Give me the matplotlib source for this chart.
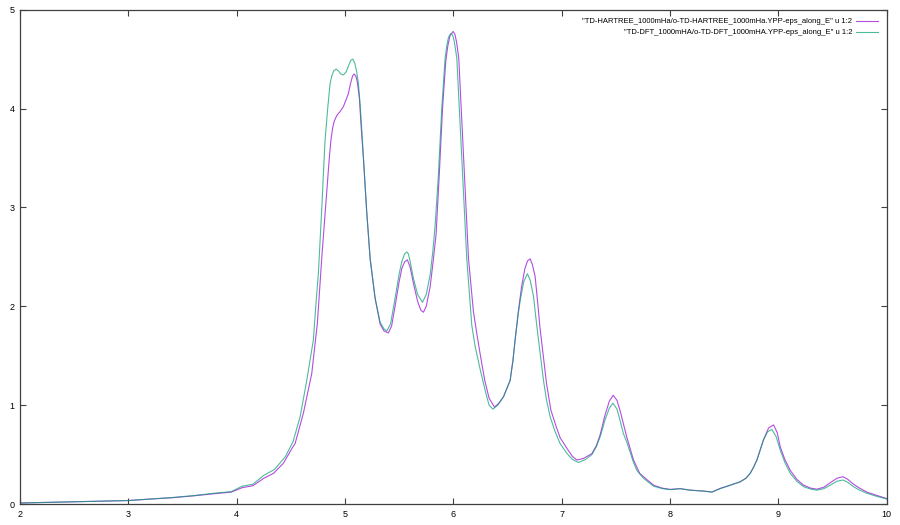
import matplotlib
matplotlib.use("Agg")
import matplotlib.pyplot as plt

# TD-HARTREE series (purple)
hx = [2.0, 2.2, 2.4, 2.6, 2.8, 3.0, 3.2, 3.4, 3.6, 3.8, 3.95, 4.05, 4.15, 4.25, 4.34, 4.43,
      4.52, 4.539, 4.616, 4.693, 4.745, 4.786, 4.832, 4.855, 4.87, 4.885, 4.90, 4.924, 4.955,
      4.985, 5.031, 5.05, 5.07, 5.084, 5.10, 5.115, 5.133, 5.15, 5.17, 5.20, 5.232, 5.278,
      5.324, 5.36, 5.40, 5.43, 5.462, 5.50, 5.524, 5.55, 5.575, 5.60, 5.632, 5.67, 5.70, 5.724,
      5.75, 5.786, 5.81, 5.84, 5.87, 5.90, 5.93, 5.95, 5.97, 5.998, 6.015, 6.03, 6.05, 6.08,
      6.11, 6.14, 6.155, 6.185, 6.217, 6.25, 6.29, 6.33, 6.38, 6.42, 6.463, 6.524, 6.55, 6.57,
      6.60, 6.63, 6.66, 6.685, 6.709, 6.73, 6.755, 6.78, 6.80, 6.83, 6.86, 6.90, 6.95, 6.986,
      7.05, 7.10, 7.14, 7.20, 7.279, 7.32, 7.355, 7.40, 7.44, 7.475, 7.51, 7.54, 7.57, 7.60,
      7.663, 7.72, 7.755, 7.848, 7.93, 8.002, 8.094, 8.186, 8.31, 8.387, 8.463, 8.556, 8.648,
      8.70, 8.74, 8.77, 8.802, 8.863, 8.91, 8.956, 8.99, 9.017, 9.06, 9.11, 9.17, 9.233, 9.30,
      9.356, 9.42, 9.479, 9.54, 9.596, 9.64, 9.694, 9.75, 9.818, 9.90, 10.0]
hy = [0.01, 0.015, 0.02, 0.025, 0.03, 0.035, 0.05, 0.063, 0.082, 0.105, 0.12, 0.165, 0.185,
      0.26, 0.31, 0.41, 0.58, 0.61, 0.92, 1.32, 1.83, 2.50, 3.17, 3.5, 3.68, 3.80, 3.87, 3.93,
      3.97, 4.02, 4.15, 4.25, 4.33, 4.35, 4.33, 4.26, 4.10, 3.80, 3.50, 2.96, 2.48, 2.08, 1.82,
      1.75, 1.73, 1.80, 2.0, 2.25, 2.38, 2.45, 2.47, 2.40, 2.23, 2.05, 1.96, 1.94, 2.0, 2.20,
      2.42, 2.72, 3.33, 4.0, 4.48, 4.64, 4.74, 4.78, 4.75, 4.67, 4.51, 3.83, 3.16, 2.48, 2.30,
      1.95, 1.72, 1.50, 1.25, 1.07, 0.98, 1.02, 1.085, 1.25, 1.45, 1.66, 1.95, 2.2, 2.38, 2.46,
      2.48, 2.42, 2.30, 2.02, 1.78, 1.50, 1.22, 0.95, 0.78, 0.67, 0.56, 0.48, 0.445, 0.46, 0.51,
      0.59, 0.70, 0.90, 1.04, 1.10, 1.05, 0.94, 0.81, 0.68, 0.445, 0.31, 0.276, 0.19, 0.16,
      0.148, 0.155, 0.14, 0.131, 0.121, 0.158, 0.19, 0.225, 0.26, 0.31, 0.37, 0.445, 0.65, 0.77,
      0.80, 0.72, 0.58, 0.45, 0.34, 0.25, 0.19, 0.16, 0.15, 0.17, 0.215, 0.26, 0.276, 0.25, 0.20,
      0.16, 0.12, 0.09, 0.055]

# TD-DFT series (green)
dx = [2.0, 2.2, 2.4, 2.6, 2.8, 3.0, 3.2, 3.4, 3.6, 3.8, 3.95, 4.05, 4.15, 4.25, 4.35, 4.45,
      4.52, 4.585, 4.647, 4.708, 4.73, 4.754, 4.77, 4.786, 4.80, 4.816, 4.84, 4.862, 4.878,
      4.895, 4.918, 4.94, 4.96, 4.985, 5.01, 5.035, 5.055, 5.072, 5.09, 5.108, 5.124, 5.139,
      5.155, 5.17, 5.20, 5.232, 5.278, 5.324, 5.36, 5.386, 5.42, 5.462, 5.50, 5.524, 5.55, 5.57,
      5.585, 5.60, 5.632, 5.67, 5.715, 5.75, 5.786, 5.81, 5.832, 5.862, 5.893, 5.924, 5.94,
      5.955, 5.977, 5.995, 6.01, 6.032, 6.063, 6.093, 6.124, 6.155, 6.17, 6.20, 6.25, 6.30, 6.33,
      6.365, 6.41, 6.463, 6.524, 6.55, 6.57, 6.60, 6.617, 6.65, 6.684, 6.71, 6.74, 6.76, 6.786,
      6.81, 6.832, 6.86, 6.894, 6.94, 6.986, 7.05, 7.10, 7.155, 7.22, 7.279, 7.32, 7.355, 7.40,
      7.44, 7.473, 7.51, 7.54, 7.57, 7.60, 7.663, 7.694, 7.755, 7.848, 7.93, 8.002, 8.094, 8.186,
      8.31, 8.387, 8.463, 8.556, 8.648, 8.70, 8.74, 8.77, 8.802, 8.863, 8.90, 8.94, 8.98, 9.017,
      9.06, 9.11, 9.17, 9.233, 9.30, 9.356, 9.42, 9.479, 9.54, 9.596, 9.64, 9.694, 9.75, 9.818,
      9.90, 10.0]
dy = [0.01, 0.015, 0.02, 0.025, 0.03, 0.035, 0.05, 0.065, 0.085, 0.11, 0.125, 0.18, 0.2, 0.29,
      0.35, 0.48, 0.63, 0.88, 1.25, 1.66, 2.0, 2.33, 2.67, 3.0, 3.33, 3.68, 4.0, 4.25, 4.33,
      4.38, 4.40, 4.38, 4.35, 4.34, 4.37, 4.44, 4.49, 4.50, 4.46, 4.37, 4.25, 4.05, 3.78, 3.50,
      2.96, 2.48, 2.08, 1.84, 1.77, 1.75, 1.82, 2.08, 2.33, 2.45, 2.53, 2.55, 2.53, 2.46, 2.28,
      2.12, 2.04, 2.12, 2.32, 2.55, 2.82, 3.33, 4.0, 4.51, 4.64, 4.72, 4.76, 4.74, 4.67, 4.51,
      3.83, 3.16, 2.48, 2.03, 1.81, 1.6, 1.35, 1.12, 1.0, 0.96, 1.0, 1.085, 1.25, 1.45, 1.66,
      1.93, 2.06, 2.25, 2.33, 2.26, 2.10, 1.90, 1.66, 1.45, 1.25, 1.05, 0.88, 0.73, 0.61, 0.51,
      0.45, 0.42, 0.45, 0.50, 0.58, 0.68, 0.85, 0.97, 1.02, 0.96, 0.84, 0.71, 0.63, 0.42, 0.34,
      0.26, 0.18, 0.155, 0.145, 0.155, 0.14, 0.13, 0.12, 0.155, 0.19, 0.225, 0.26, 0.31, 0.37,
      0.445, 0.65, 0.73, 0.755, 0.68, 0.546, 0.42, 0.31, 0.23, 0.175, 0.15, 0.14, 0.155, 0.19,
      0.23, 0.243, 0.22, 0.175, 0.14, 0.108, 0.08, 0.05]

labels = ['"TD-HARTREE_1000mHa/o-TD-HARTREE_1000mHa.YPP-eps_along_E" u 1:2',
          '"TD-DFT_1000mHA/o-TD-DFT_1000mHA.YPP-eps_along_E" u 1:2']
xticks = [2, 3, 4, 5, 6, 7, 8, 9, 10]
yticks = [0, 1, 2, 3, 4, 5]

plt.rcParams['font.family'] = ['Liberation Sans', 'DejaVu Sans']
fig = plt.figure(figsize=(9, 5.25), dpi=100)
ax = fig.add_axes([20/900, 21/525, 866.7/900, 494.3/525])

ax.plot(hx, hy, color='#9400d3', lw=0.8, alpha=0.7, label=labels[0],
        solid_joinstyle='round')
ax.plot(dx, dy, color='#009e73', lw=0.8, alpha=0.7, label=labels[1],
        solid_joinstyle='round')

ax.set_xlim(2, 10)
ax.set_ylim(0, 5)
ax.set_xticks(xticks)
ax.set_yticks(yticks)
ax.tick_params(direction='in', length=4, width=0.8, color='#404040',
               top=True, right=True, labelsize=6.5, pad=4)
for s in ax.spines.values():
    s.set_color('#404040')
    s.set_linewidth(0.9)

leg = ax.legend(loc='upper right', frameon=False, markerfirst=False, fontsize=5.5,
                handlelength=2.9, handletextpad=0.5, borderaxespad=0.7,
                labelspacing=0.45)
for t in leg.get_texts():
    t.set_ha('right')
leg._legend_box.align = 'right'

fig.savefig('out.png', dpi=100)
